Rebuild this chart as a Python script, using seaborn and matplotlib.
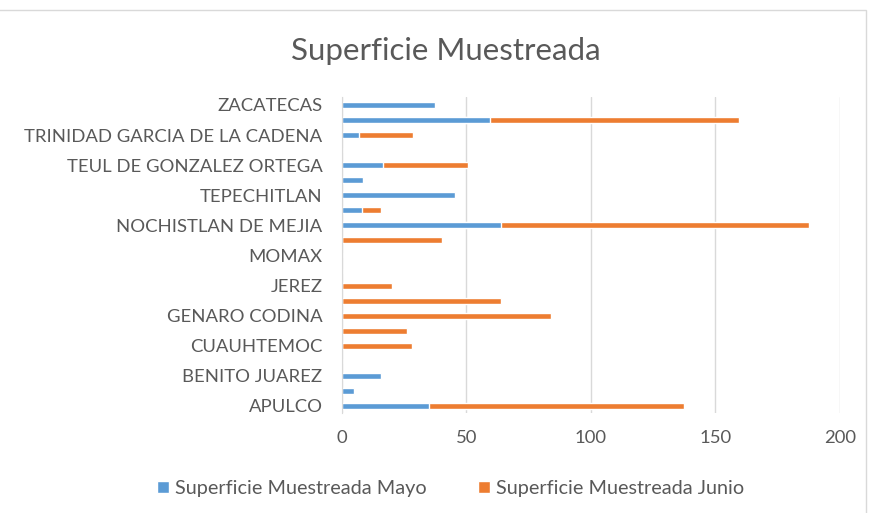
import matplotlib
matplotlib.use("Agg")
import matplotlib.pyplot as plt
import seaborn as sns
import pandas as pd
from matplotlib.patches import Patch, Rectangle

# --- Data (bottom to top) ---
municipios = ["APULCO", "ATOLINGA", "BENITO JUAREZ", "CHALCHIHUITES", "CUAUHTEMOC",
              "FRESNILLO", "GENARO CODINA", "JALPA", "JEREZ", "JUCHIPILA", "MOMAX",
              "MOYAHUA DE ESTRADA", "NOCHISTLAN DE MEJIA", "TABASCO", "TEPECHITLAN",
              "TEPETONGO", "TEUL DE GONZALEZ ORTEGA", "TLALTENANGO DE SANCHEZ ROMAN",
              "TRINIDAD GARCIA DE LA CADENA", "VILLANUEVA", "ZACATECAS"]
mayo = [35, 5, 15.5, 0, 0, 0, 0, 0, 0, 0, 0, 0, 64, 8, 45.5, 8.5, 16.5, 0, 7, 59.5, 37.5]
junio = [102.5, 0, 0, 0, 28, 26, 84, 64, 20, 0, 0, 40, 123.5, 7.5, 0, 0, 34, 0, 21.5, 100, 0]

blue = "#5B9BD5"
orange = "#ED7D31"
grey_txt = "#595959"

df = pd.DataFrame({"municipio": municipios, "mayo": mayo, "junio": junio})
df["total"] = df["mayo"] + df["junio"]
order = municipios[::-1]  # seaborn puts the first category on top

sns.set_style("white")
plt.rcParams["font.family"] = ["Lato", "DejaVu Sans"]

fig = plt.figure(figsize=(8.7, 5.13), dpi=100)
ax = fig.add_axes([0.393, 0.194, 0.5725, 0.616])

# --- stacked bars: total (orange) underneath, mayo (blue) on top ---
sns.barplot(data=df, y="municipio", x="total", order=order, color=orange,
            width=0.4, saturation=1, orient="h", ax=ax, zorder=2)
sns.barplot(data=df, y="municipio", x="mayo", order=order, color=blue,
            width=0.4, saturation=1, orient="h", ax=ax, zorder=3)

ax.set_xlim(0, 200)
ax.set_xticks([0, 50, 100, 150, 200])
ax.set_ylim(len(order) - 0.5, -0.5)
ax.set_xlabel("")
ax.set_ylabel("")

# Excel shows only every other category label
ax.set_yticks(range(len(order)))
ax.set_yticklabels([name if i % 2 == 0 else "" for i, name in enumerate(order)])

ax.tick_params(axis="y", length=0, pad=14, labelsize=13.3, labelcolor=grey_txt)
ax.tick_params(axis="x", length=0, pad=12, labelsize=13.3, labelcolor=grey_txt)

ax.grid(axis="x", color="#D9D9D9", linewidth=1, zorder=0)
ax.set_axisbelow(True)
for side in ["top", "right", "bottom"]:
    ax.spines[side].set_visible(False)
ax.spines["left"].set_color("#D9D9D9")
ax.spines["left"].set_zorder(4)

fig.text(0.512, 0.90, "Superficie Muestreada", ha="center", va="center",
         fontsize=22.5, color=grey_txt)

handles = [Patch(facecolor=blue, label="Superficie Muestreada Mayo"),
           Patch(facecolor=orange, label="Superficie Muestreada Junio")]
fig.legend(handles=handles, loc="center", bbox_to_anchor=(0.518, 0.048), ncol=2,
           frameon=False, fontsize=14.3, labelcolor=grey_txt, handlelength=0.6,
           handleheight=0.6, handletextpad=0.3, columnspacing=2.6)

fig.patches.append(Rectangle((-0.01, -0.01), 1.005, 0.99, transform=fig.transFigure,
                             fill=False, edgecolor="#D9D9D9", linewidth=1))

fig.savefig("out.png", dpi=100)
